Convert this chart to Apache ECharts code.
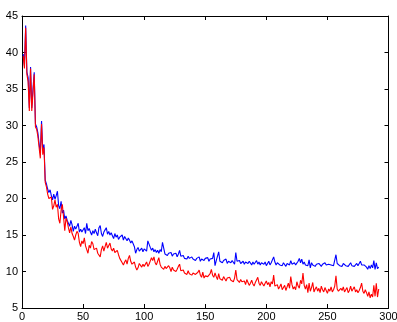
<!DOCTYPE html>
<html>
<head>
<meta charset="utf-8">
<script src="https://cdn.jsdelivr.net/npm/echarts@6/dist/echarts.min.js"></script>
<style>
  html, body { margin: 0; padding: 0; background: #fff; }
  #chart { width: 397px; height: 322px; }
</style>
</head>
<body>
<div id="chart"></div>
<script>
// x ticks / y ticks
const xTicks = [0, 50, 100, 150, 200, 250, 300];
const yTicks = [5, 10, 15, 20, 25, 30, 35, 40, 45];

// blue curve, one value per iteration (x = 1..292)
const blueValues = [
  39.8, 38.2, 43.7, 37.3, 36.6, 32.4, 38.0, 32.4, 35.0, 37.3,
  30.2, 29.8, 29.0, 27.5, 26.2, 30.6, 26.6, 27.4, 22.5, 22.0,
  21.3, 20.8, 21.2, 20.4, 19.8, 20.6, 19.9, 20.4, 21.0, 19.0,
  18.6, 19.6, 18.0, 18.4, 17.2, 17.6, 17.0, 16.6, 16.2, 17.0,
  16.4, 15.5, 16.2, 15.8, 16.0, 16.6, 15.4, 15.8, 15.4, 15.3,
  16.0, 15.2, 16.6, 15.6, 15.9, 15.4, 15.0, 15.6, 15.2, 15.8,
  15.3, 14.9, 16.0, 16.3, 15.2, 14.8, 15.4, 15.7, 16.0, 15.1,
  15.5, 15.0, 15.3, 14.9, 14.5, 15.2, 14.7, 15.0, 14.4, 14.7,
  14.6, 15.0, 14.3, 14.8, 14.9, 14.2, 14.6, 14.3, 13.9, 14.2,
  13.8, 13.4, 12.5, 13.0, 13.3, 12.8, 13.0, 13.2, 12.7, 13.1,
  13.0, 12.8, 14.2, 14.1, 13.3, 12.9, 13.2, 12.7, 13.0, 12.6,
  12.9, 12.5, 13.0, 12.7, 14.0, 13.2, 12.4, 12.6, 12.2, 12.5,
  12.3, 12.6, 12.1, 12.4, 12.2, 12.5, 12.0, 12.4, 12.9, 12.1,
  11.9, 12.2, 11.8, 12.0, 11.7, 12.1, 11.8, 11.6, 12.0, 11.7,
  11.9, 11.5, 11.8, 11.6, 12.0, 11.4, 11.7, 11.9, 11.5, 11.8,
  11.6, 11.9, 11.4, 11.7, 11.5, 11.8, 12.6, 10.8, 11.5, 11.3,
  12.7, 11.4, 11.6, 11.2, 11.5, 11.3, 11.7, 11.1, 11.4, 11.6,
  11.2, 11.5, 11.3, 11.0, 12.6, 11.4, 11.2, 11.5, 11.1, 11.3,
  11.4, 11.0, 11.3, 11.5, 11.1, 11.4, 11.2, 10.9, 11.3, 11.0,
  11.2, 11.5, 11.0, 11.3, 10.9, 11.2, 11.4, 11.0, 11.3, 10.8,
  11.1, 11.4, 10.9, 11.2, 11.0, 12.0, 11.3, 10.9, 11.2, 11.4,
  10.9, 11.1, 10.8, 11.2, 11.0, 10.7, 11.1, 11.3, 10.9, 11.5,
  11.0, 10.8, 11.2, 10.9, 11.1, 11.4, 11.8, 11.2, 11.7, 11.0,
  11.3, 10.9, 11.1, 10.8, 11.6, 10.5, 11.2, 10.9, 11.0, 10.7,
  11.0, 10.8, 11.1, 10.9, 10.7, 11.0, 10.8, 11.2, 10.9, 10.7,
  11.0, 10.8, 10.9, 11.1, 10.8, 11.0, 12.3, 11.1, 10.9, 10.8,
  11.0, 10.7, 11.1, 10.9, 10.8, 11.0, 10.7, 10.9, 11.2, 10.8,
  11.0, 10.7, 10.9, 11.1, 10.8, 11.0, 11.4, 10.9, 10.7, 10.9,
  10.8, 10.6, 10.3, 10.8, 10.4, 10.9, 10.5, 11.5, 10.3, 11.2, 10.4, 10.6
];

// red curve
const redValues = [
  39.5, 37.8, 43.4, 37.0, 36.0, 32.0, 37.8, 32.0, 34.5, 37.0,
  29.8, 29.5, 28.5, 27.0, 25.5, 30.2, 26.0, 27.0, 22.2, 21.6,
  20.6, 20.0, 19.8, 20.2, 18.5, 19.0, 19.8, 18.8, 19.2, 17.2,
  16.6, 18.4, 19.2, 17.5, 15.6, 17.3, 16.8, 16.0, 15.3, 16.1,
  15.2, 14.8, 14.3, 15.0, 15.5, 15.2, 14.0, 13.4, 14.2, 13.8,
  14.6, 13.5, 13.0, 12.5, 13.6, 13.2, 14.1, 13.8, 13.0, 12.8,
  13.2, 12.5, 12.6, 12.0, 13.0, 13.5, 12.8, 13.4, 14.0, 13.2,
  13.0, 13.9, 13.1, 12.8, 13.2, 12.6, 12.4, 12.9, 12.3, 11.8,
  12.0, 11.2, 10.9, 11.3, 11.6, 11.0, 11.8, 12.2, 11.4, 11.0,
  10.8, 11.3, 10.6, 10.2, 10.5, 11.1, 10.9, 10.6, 11.0, 10.7,
  10.9, 11.3, 10.7, 11.0, 10.8, 11.9, 11.5, 12.0, 11.2, 10.9,
  11.4, 11.9, 11.0, 10.6, 10.8, 10.3, 10.7, 10.4, 10.2, 10.8,
  10.5, 10.0, 10.6, 10.2, 10.4, 10.0, 10.3, 10.7, 11.0, 10.1,
  9.9, 10.2, 9.8, 10.0, 9.6, 10.1, 9.7, 9.9, 9.5, 9.8,
  10.0, 9.6, 9.4, 9.9, 10.2, 9.5, 9.2, 9.9, 9.1, 9.4,
  9.6, 9.3, 9.1, 9.7, 10.3, 9.5, 9.2, 9.8, 9.3, 8.9,
  9.7, 9.0, 9.2, 8.8, 9.3, 9.0, 8.7, 9.1, 8.9, 9.2,
  8.8, 9.0, 8.6, 9.1, 10.2, 8.9, 8.8, 8.5, 8.9, 8.6,
  8.4, 8.7, 8.2, 8.9, 8.5, 8.1, 8.4, 8.8, 8.3, 8.0,
  8.5, 8.7, 9.2, 8.4, 8.1, 8.6, 8.3, 8.0, 8.4, 8.7,
  8.2, 8.5, 7.9, 8.6, 8.3, 9.5, 8.0, 7.8, 8.2, 7.6,
  7.9, 8.3, 7.5, 7.8, 8.1, 7.4, 7.9, 8.4, 7.7, 9.3,
  8.2, 7.6, 7.9, 7.5, 8.6, 8.0, 7.7, 8.8, 8.3, 9.8,
  8.1, 7.6, 8.2, 7.1, 8.4, 7.3, 7.8, 8.5, 7.2, 7.6,
  7.9, 7.3, 7.7, 7.1, 8.0, 7.5, 7.2, 7.8, 7.4, 7.0,
  7.6, 7.3, 7.9, 7.2, 7.5, 8.0, 9.4, 7.6, 7.3, 7.1,
  7.7, 7.4, 7.9, 7.2, 7.5, 7.8, 7.1, 7.4, 8.0, 7.3,
  7.6, 7.9, 7.2, 7.5, 7.1, 7.4, 7.8, 8.4, 7.3, 7.0,
  7.5, 7.1, 6.6, 7.2, 6.4, 6.9, 6.5, 8.1, 6.6, 8.4, 6.5, 7.6
];

const chart = echarts.init(document.getElementById('chart'), null, { renderer: 'canvas' });

const toPoints = (vals) => vals.map((v, i) => [i + 1, v]);

const labelFont = { fontFamily: 'Liberation Sans, Arial, sans-serif', fontSize: 11, color: '#000' };

// mirrored axes give the MATLAB-style box with inward ticks on all sides
const makeX = (pos, showLabel) => ({
  type: 'value',
  position: pos,
  min: xTicks[0],
  max: xTicks[xTicks.length - 1],
  interval: 50,
  axisLine: { show: true, onZero: false, lineStyle: { color: '#000', width: 1 } },
  axisTick: { show: true, inside: true, length: 4, lineStyle: { color: '#000' } },
  axisLabel: Object.assign({ show: showLabel, margin: 3, showMaxLabel: true }, labelFont),
  splitLine: { show: false }
});
const makeY = (pos, showLabel) => ({
  type: 'value',
  position: pos,
  min: yTicks[0],
  max: yTicks[yTicks.length - 1],
  interval: 5,
  axisLine: { show: true, onZero: false, lineStyle: { color: '#000', width: 1 } },
  axisTick: { show: true, inside: true, length: 4, lineStyle: { color: '#000' } },
  axisLabel: Object.assign({ show: showLabel, margin: 4 }, labelFont),
  splitLine: { show: false }
});

chart.setOption({
  animation: false,
  backgroundColor: '#fff',
  grid: { left: 22, top: 16, right: 8.5, bottom: 14, containLabel: false, outerBoundsMode: 'none' },
  xAxis: [makeX('bottom', true), makeX('top', false)],
  yAxis: [makeY('left', true), makeY('right', false)],
  series: [
    {
      type: 'line',
      data: toPoints(blueValues),
      showSymbol: false,
      lineStyle: { color: '#0000ff', width: 1.1 },
      itemStyle: { color: '#0000ff' }
    },
    {
      type: 'line',
      data: toPoints(redValues),
      showSymbol: false,
      lineStyle: { color: '#ff0000', width: 1.1 },
      itemStyle: { color: '#ff0000' }
    }
  ]
});
</script>
</body>
</html>
